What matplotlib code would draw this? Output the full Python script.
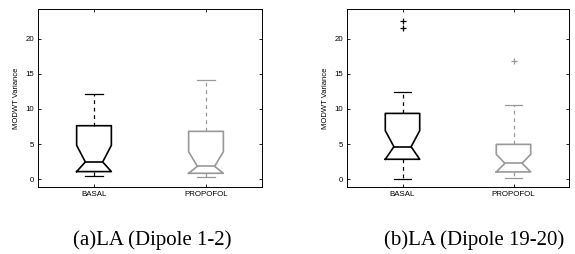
import matplotlib
matplotlib.use("Agg")
import matplotlib.pyplot as plt

# group labels
groups = ["BASAL", "PROPOFOL"]

# box stats: whislo, q1, med, cihi, q3, whishi, fliers
la12_basal = [0.47, 1.09, 2.46, 4.82, 7.61, 12.1, []]
la12_propofol = [0.38, 0.85, 1.84, 3.92, 6.81, 14.09, []]
la1920_basal = [0.1, 2.84, 4.63, 6.9, 9.36, 12.34, [21.47, 22.5]]
la1920_propofol = [0.14, 1.04, 2.27, 3.55, 4.96, 10.5, [16.83]]

captions = ["(a)LA (Dipole 1-2)", "(b)LA (Dipole 19-20)"]
yticks = [0, 5, 10, 15, 20]

colors = ["black", "#999999"]


def make_stats(vals, label):
    lo, q1, med, cihi, q3, hi, fl = vals
    return dict(whislo=lo, q1=q1, med=med, cilo=q1, cihi=cihi, q3=q3,
                whishi=hi, fliers=fl, label=label)


def draw(ax, basal, propofol):
    stats = [make_stats(basal, groups[0]), make_stats(propofol, groups[1])]
    for i, st in enumerate(stats):
        c = colors[i]
        ax.bxp([st], positions=[i + 1], widths=0.31, shownotches=True,
               boxprops=dict(color=c, linewidth=1.2),
               whiskerprops=dict(color=c, linestyle=(0, (3, 3)), linewidth=0.9),
               capprops=dict(color=c, linewidth=0.9),
               medianprops=dict(color=c, linewidth=1.2),
               flierprops=dict(marker="+", markeredgecolor=c, markersize=4,
                               markeredgewidth=0.9),
               capwidths=0.155)
    ax.set_xlim(0.5, 2.5)
    ax.set_ylim(-1.1, 24.2)
    ax.set_yticks(yticks)
    ax.set_xticks([1, 2])
    ax.set_xticklabels(groups)
    ax.set_ylabel("MODWT Variance", fontsize=5.5, family="Liberation Sans", labelpad=4)
    ax.tick_params(direction="in", top=True, right=True, length=2.5, width=0.6,
                   labelsize=5.7, pad=3)
    for lab in ax.get_xticklabels() + ax.get_yticklabels():
        lab.set_family("Liberation Sans")
    for sp in ax.spines.values():
        sp.set_linewidth(0.7)


fig = plt.figure(figsize=(5.75, 2.54), dpi=100)
ax1 = fig.add_axes([38 / 575, 1 - 187 / 254, 224 / 575, 178 / 254])
ax2 = fig.add_axes([347 / 575, 1 - 187 / 254, 222 / 575, 178 / 254])
draw(ax1, la12_basal, la12_propofol)
draw(ax2, la1920_basal, la1920_propofol)

fig.text(152 / 575, 1 - 240 / 254, captions[0], ha="center", va="center",
         fontsize=15, family="Liberation Serif")
fig.text(474 / 575, 1 - 240 / 254, captions[1], ha="center", va="center",
         fontsize=15, family="Liberation Serif")

fig.savefig("out.png", dpi=100)
